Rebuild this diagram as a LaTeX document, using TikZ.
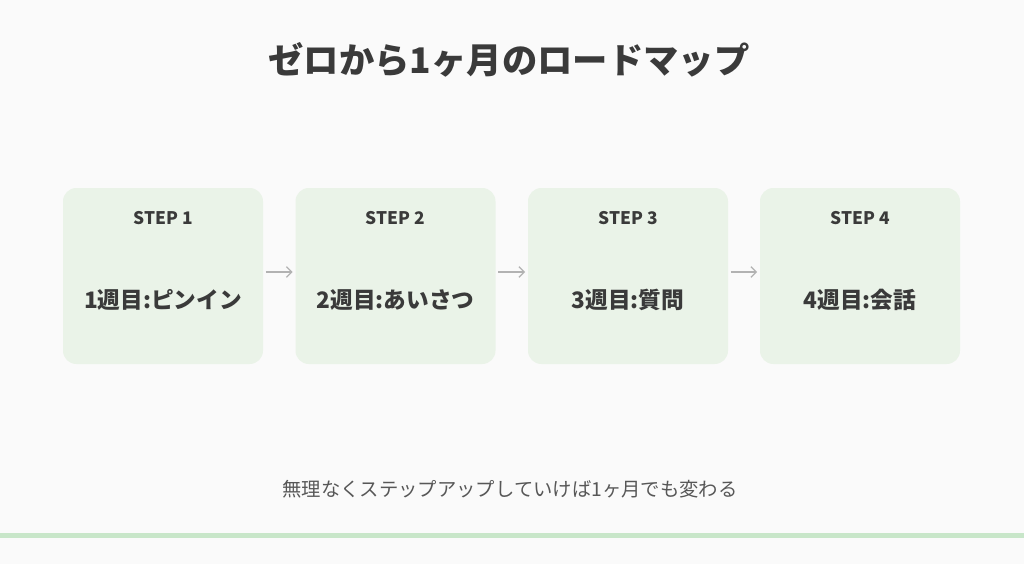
\documentclass[tikz,border=0pt]{standalone}
\usepackage{fontspec}
\setmainfont{Noto Sans CJK JP}
\usetikzlibrary{arrows.meta}
\definecolor{bg}{HTML}{FAFAFA}
\definecolor{boxf}{HTML}{EAF3E8}
\definecolor{txt}{HTML}{3A3A3A}
\definecolor{bar}{HTML}{C8E6C9}
\begin{document}
\begin{tikzpicture}[x=0.75pt,y=-0.75pt,
  box/.style={fill=boxf,rounded corners=10pt,minimum width=150pt,minimum height=132pt,inner sep=0},
  arr/.style={-{Straight Barb[length=4pt]},draw=gray!60,line width=0.9pt}]
\fill[bg] (0,0) rectangle (1024,564);
\useasboundingbox (0,0) rectangle (1024,564);
\node[txt,font=\fontsize{26.5}{30}\selectfont\bfseries] (title) at (509,60) {ゼロから1ヶ月のロードマップ};
\foreach \i/\x/\t in {1/163/1週目:ピンイン,2/395.5/2週目:あいさつ,3/628/3週目:質問,4/860/4週目:会話}{
  \node[box] (b\i) at (\x,276) {};
  \node[txt,font=\fontsize{13}{14}\selectfont\bfseries] (s\i) at (\x,218) {STEP \i};
  \node[txt,font=\fontsize{17}{18}\selectfont\bfseries] (l\i) at (\x,300) {\t};
}
\foreach \a/\b in {1/2,2/3,3/4}{\draw[arr] ([yshift=3pt]b\a.east)++(2pt,0) -- ([yshift=3pt,xshift=-2pt]b\b.west);}
\node[txt!85,font=\fontsize{14.5}{16}\selectfont] (foot) at (510,489) {無理なくステップアップしていけば1ヶ月でも変わる};
\fill[bar] (0,532.5) rectangle (1024,537.5);
\end{tikzpicture}
\end{document}
